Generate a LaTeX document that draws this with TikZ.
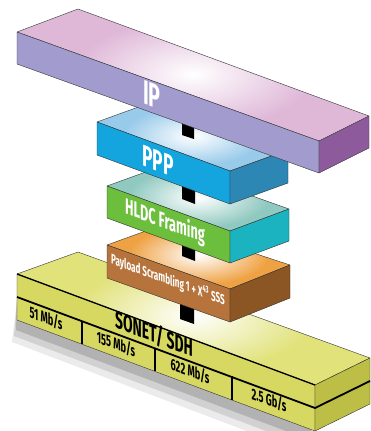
\documentclass[tikz,border=0pt]{standalone}
\usepackage{fontspec}
\newfontfamily\condfont[FakeStretch=0.58]{Fira Sans}
\usetikzlibrary{calc}

\definecolor{iptop}{HTML}{DFB8D8}
\definecolor{ipfront}{HTML}{A19CCD}
\definecolor{ipside}{HTML}{8D5B9B}
\definecolor{ppptop}{HTML}{98CAEA}
\definecolor{pppfront}{HTML}{14A5DE}
\definecolor{pppside}{HTML}{2C87B4}
\definecolor{hltop}{HTML}{90C9C0}
\definecolor{hlfront}{HTML}{6CBE3D}
\definecolor{hlside}{HTML}{1BB3BF}
\definecolor{paytop}{HTML}{EFA244}
\definecolor{payfront}{HTML}{B6743C}
\definecolor{payside}{HTML}{8C5524}
\definecolor{sontop}{HTML}{E1E27A}
\definecolor{sonfront}{HTML}{D6D862}
\definecolor{sonside}{HTML}{BCBE45}

% #1 colour prefix, #2 front-left, #3 front-right, #4 back-left, #5 back-right, #6 thickness, #7 glow radii
\newcommand{\slab}[7]{%
  \begin{scope}
    \clip (#2) -- (#3) -- (#5) -- (#4) -- cycle;
    \fill[#1top] (#2) -- (#3) -- (#5) -- (#4) -- cycle;
    \shade[inner color=white,outer color=#1top] ($(#2)!0.5!(#5)$) ellipse (#7);
  \end{scope}
  \draw[edge] (#2) -- (#3) -- (#5) -- (#4) -- cycle;
  \filldraw[edge,fill=#1front] (#2) -- (#3) -- ($(#3)+(0,#6)$) -- ($(#2)+(0,#6)$) -- cycle;
  \filldraw[edge,fill=#1side] (#3) -- (#5) -- ($(#5)+(0,#6)$) -- ($(#3)+(0,#6)$) -- cycle;
}
% text lying on a front face
\newcommand{\onface}[5]{%
  \begin{scope}[shift={(#1)},yslant=#2]
    \node[#3] (#4) {#5};
  \end{scope}}

\begin{document}
\begin{tikzpicture}[x=1pt,y=-1pt,
    edge/.style={draw=black!80,line width=0.4pt,line join=round},
    post/.style={fill=black},
    divider/.style={line width=1.8pt},
    lbl/.style={text=white,inner sep=0pt,transform shape},
    rate/.style={text=black,inner sep=0pt,transform shape,
      font=\condfont\bfseries\fontsize{16}{16}\selectfont}]
  \useasboundingbox (0,0) rectangle (370,431);

  % shadow under the SONET slab
  \fill[black!8] (17,300) -- (315,411) -- (302,452) -- (12,342) -- cycle;
  \fill[black!18] (17,300) -- (315,411) -- (306,446) -- (14,336) -- cycle;
  \fill[black!30] (17,300) -- (315,411) -- (310,440) -- (16,330) -- cycle;

  % SONET / SDH
  \slab{son}{17,274}{315,385}{78,252}{370,358}{46}{120 and 55}
  \draw[line width=1.3pt] (17,274) -- (315,385);
  \draw[divider] (17,297) -- (315,408) -- (370,381);
  \draw[divider] (82,321) -- (82,344);
  \draw[divider] (155,348) -- (155,371);
  \draw[divider] (232,376) -- (232,400);
  \onface{154,334}{-0.372}{text=black,inner sep=0pt,transform shape,font=\condfont\bfseries\fontsize{24}{24}\selectfont}{sonet}{SONET/ SDH}
  \onface{46,318}{-0.372}{rate}{r51}{51 Mb/s}
  \onface{116,344}{-0.372}{rate}{r155}{155 Mb/s}
  \onface{190,371}{-0.372}{rate}{r622}{622 Mb/s}
  \onface{269,400}{-0.372}{rate}{r25}{2.5 Gb/s}

  \fill[post] (180,298) -- (194,303) -- (194,324) -- (180,319) -- cycle;

  % payload scrambling
  \slab{pay}{107,245}{230,289}{165,224}{290,265}{33}{70 and 30}
  \onface{168,280}{-0.365}{lbl,font=\condfont\bfseries\fontsize{14}{14}\selectfont}{pay}{Payload Scrambling 1 + X\textsuperscript{43} SSS}

  \fill[post] (182,238) -- (195,243) -- (195,261) -- (182,256) -- cycle;

  % HLDC framing
  \slab{hl}{107,186}{230,231}{165,165}{289,209}{32}{70 and 30}
  \onface{165,222}{-0.365}{lbl,font=\condfont\bfseries\fontsize{22}{22}\selectfont}{hldc}{HLDC Framing}

  \fill[post] (182,180) -- (195,185) -- (195,204) -- (182,199) -- cycle;

  % PPP
  \slab{ppp}{97,122}{230,171}{155,101}{288,150}{33}{70 and 30}
  \onface{158,161}{-0.365}{lbl,font=\condfont\bfseries\fontsize{30}{30}\selectfont}{ppp}{PPP}

  \fill[post] (182,115) -- (194,119) -- (194,139) -- (182,135) -- cycle;

  % IP
  \slab{ip}{17,32}{319,141}{78,9}{369,116}{32}{120 and 55}
  \onface{152,95}{-0.365}{lbl,font=\condfont\bfseries\fontsize{34}{34}\selectfont}{ip}{IP}
\end{tikzpicture}
\end{document}
